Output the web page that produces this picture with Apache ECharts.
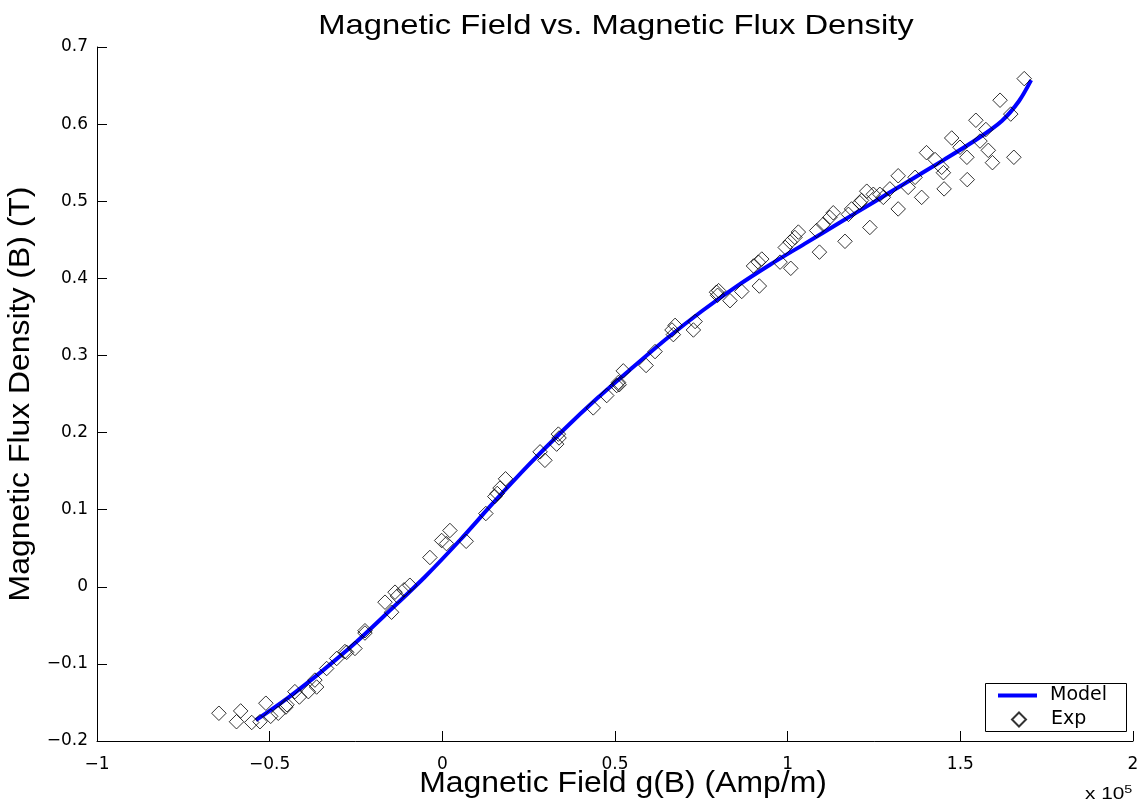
<!DOCTYPE html>
<html>
<head>
<meta charset="utf-8">
<script src="https://cdn.jsdelivr.net/npm/echarts@6/dist/echarts.min.js"></script>
<style>
html,body{margin:0;padding:0;background:#fff;}
#chart{width:1143px;height:805px;}
</style>
</head>
<body>
<div id="chart"></div>
<script>
// Field values in units of 1e5 Amp/m, flux density in T
const modelX = [-0.54,-0.45,-0.35,-0.25,-0.15,-0.05,0.05,0.15,0.25,0.35,0.45,0.55,0.65,0.75,0.85,0.95,1.05,1.15,1.25,1.35,1.45,1.55,1.62,1.67,1.705];
const modelY = [-0.173,-0.145,-0.110,-0.072,-0.030,0.013,0.060,0.110,0.158,0.203,0.245,0.284,0.322,0.357,0.389,0.418,0.445,0.472,0.499,0.526,0.553,0.581,0.604,0.630,0.657];

const expX = [-0.647,-0.584,-0.596,-0.552,-0.511,-0.528,-0.497,-0.475,-0.453,-0.45,-0.427,-0.414,-0.388,-0.369,-0.364,-0.335,-0.306,-0.282,-0.277,-0.253,-0.224,-0.224,-0.166,-0.147,-0.137,-0.13,-0.111,-0.094,
  -0.036,-0.002,0.012,0.022,0.069,0.126,0.152,0.159,0.167,0.183,0.283,0.297,0.336,0.338,0.331,0.437,0.476,0.505,
  0.512,0.524,0.510,0.590,0.616,0.669,0.674,0.665,0.727,0.732,0.794,0.797,0.800,0.833,0.867,0.918,0.901,0.915,0.925,0.978,1.009,
  0.993,1.007,1.021,1.031,1.084,1.092,1.103,1.122,1.132,1.166,1.176,1.185,1.209,1.214,1.238,1.229,1.248,1.267,1.277,1.296,1.320,1.320,1.349,1.369,1.388,1.402,1.427,1.446,1.451,1.453,1.475,1.499,1.519,1.520,1.545,1.557,1.574,1.581,1.593,1.615,1.646,1.655,1.685];
const expY = [-0.164,-0.161,-0.175,-0.176,-0.151,-0.175,-0.168,-0.164,-0.156,-0.153,-0.136,-0.143,-0.136,-0.121,-0.130,-0.106,-0.093,-0.084,-0.085,-0.080,-0.057,-0.060,-0.020,-0.033,-0.007,-0.012,-0.004,0.002,
  0.038,0.060,0.056,0.073,0.059,0.095,0.117,0.121,0.128,0.140,0.175,0.164,0.198,0.193,0.185,0.232,0.248,0.261,
  0.262,0.280,0.265,0.287,0.305,0.327,0.339,0.333,0.333,0.344,0.382,0.378,0.384,0.371,0.383,0.390,0.416,0.421,0.425,0.421,0.413,
  0.440,0.447,0.453,0.460,0.462,0.434,0.470,0.479,0.485,0.448,0.483,0.490,0.498,0.501,0.466,0.513,0.509,0.509,0.505,0.516,0.490,0.533,0.518,0.531,0.505,0.563,0.554,0.544,0.537,0.516,0.582,0.570,0.557,0.528,0.605,0.578,0.593,0.566,0.550,0.631,0.613,0.557,0.659];

const xTickLabels = {"-1":"\u22121","-0.5":"\u22120.5","0":"0","0.5":"0.5","1":"1","1.5":"1.5","2":"2"};
const yTickLabels = {"-0.2":"\u22120.2","-0.1":"\u22120.1","0":"0","0.1":"0.1","0.2":"0.2","0.3":"0.3","0.4":"0.4","0.5":"0.5","0.6":"0.6","0.7":"0.7"};

const font = 'Liberation Sans, Arial, sans-serif';
const tickFont = 'DejaVu Sans, sans-serif';
function txt(text, x, y, size, scaleX, rotation){
  return {type:'text', x:x, y:y, scaleX:scaleX, rotation:rotation||0, silent:true,
    style:{text:text, fontFamily:font, fontSize:size, fill:'#000',
      align:'center', verticalAlign:'middle', textAlign:'center', textVerticalAlign:'middle'}};
}
const chart = echarts.init(document.getElementById('chart'));
chart.setOption({
  backgroundColor:'#fff',
  animation:false,
  grid:{left:97,right:10,top:47,bottom:64,containLabel:false},
  xAxis:{type:'value',min:-1,max:2,interval:0.5,
    axisLine:{show:true,onZero:false,lineStyle:{color:'#000',width:1}},
    axisTick:{show:true,inside:true,length:10,lineStyle:{color:'#000'}},
    axisLabel:{fontFamily:tickFont,fontSize:17,color:'#000',margin:15,
      formatter:v=>{const k=String(Math.round(v*10)/10);return xTickLabels[k]!==undefined?xTickLabels[k]:k;}},
    splitLine:{show:false}},
  yAxis:{type:'value',min:-0.2,max:0.7,interval:0.1,
    axisLine:{show:true,onZero:false,lineStyle:{color:'#000',width:1}},
    axisTick:{show:true,inside:true,length:10,lineStyle:{color:'#000'}},
    axisLabel:{fontFamily:tickFont,fontSize:17,color:'#000',margin:9,
      formatter:v=>{const k=String(Math.round(v*10)/10);return yTickLabels[k]!==undefined?yTickLabels[k]:k;}},
    splitLine:{show:false}},
  legend:[
    {left:998,top:686,padding:0,itemWidth:39,itemHeight:4,
     textStyle:{fontFamily:tickFont,fontSize:19,color:'#000',padding:[0,0,0,8]},
     data:[{name:'Model',icon:'rect'}]},
    {left:1011,top:710,padding:0,itemWidth:14,itemHeight:14,
     textStyle:{fontFamily:tickFont,fontSize:19,color:'#000',padding:[0,0,0,20]},
     data:[{name:'Exp'}]}
  ],
  graphic:[
    {type:'rect',z:3,silent:true,shape:{x:985.5,y:683.5,width:141,height:48},
     style:{fill:'#fff',stroke:'#000',lineWidth:1}},
    txt('Magnetic Field vs. Magnetic Flux Density',616,26,28,1.17),
    txt('Magnetic Field g(B) (Amp/m)',623,784,29,1.1),
    txt('Magnetic Flux Density (B) (T)',21,394,29,1.1,Math.PI/2),
    {type:'text',x:1085,y:784,scaleX:1.3,silent:true,style:{
      text:'x 10{s|5}',rich:{s:{fontSize:11,verticalAlign:'top',padding:[0,0,10,0],fontFamily:font,fill:'#000'}},
      fontFamily:font,fontSize:16,fill:'#000'}}
  ],
  series:[
    {name:'Model',type:'line',smooth:0.3,symbol:'none',
     data:modelX.map((x,i)=>[x,modelY[i]]),
     lineStyle:{color:'#0000ff',width:4},itemStyle:{color:'#0000ff'},z:2},
    {name:'Exp',type:'scatter',symbol:'diamond',symbolSize:14.5,
     data:expX.map((x,i)=>[x,expY[i]]),
     itemStyle:{color:'rgba(0,0,0,0)',borderColor:'#000',borderWidth:1},z:3}
  ]
});
</script>
</body>
</html>
